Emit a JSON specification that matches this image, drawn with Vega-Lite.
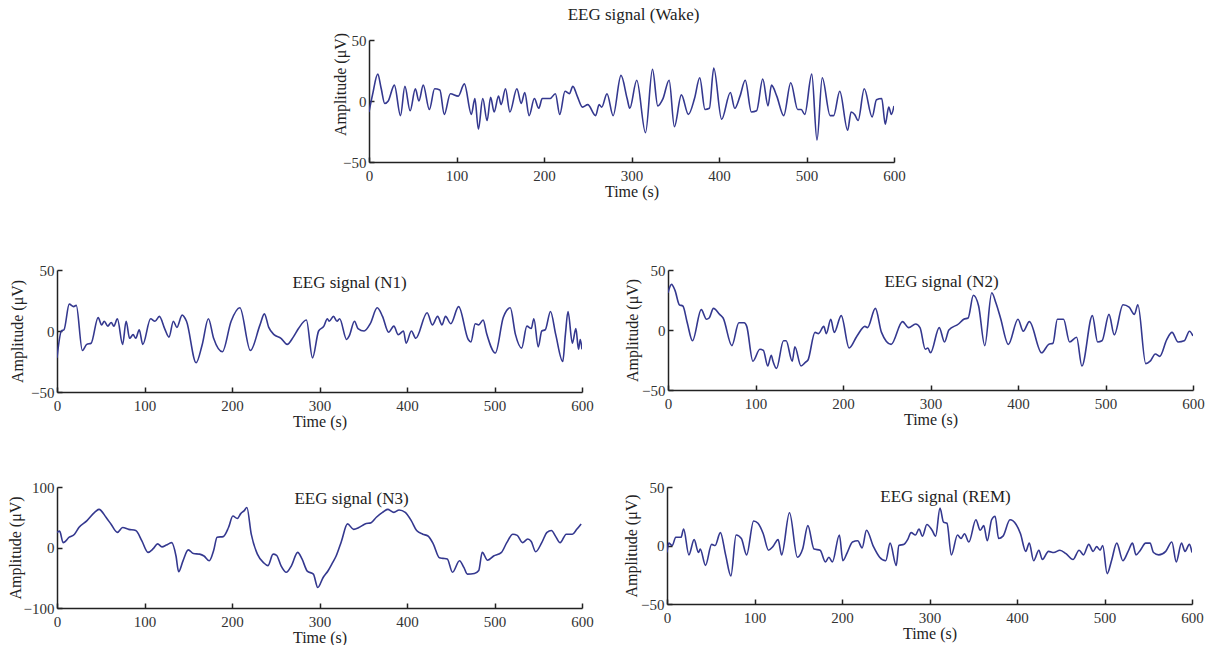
{
  "$schema": "https://vega.github.io/schema/vega-lite/v6.json",
  "padding": {"left": 6, "top": 6, "right": 0, "bottom": 0},
  "background": "white",
  "config": {
    "view": {"stroke": null},
    "font": "Liberation Serif",
    "title": {"fontSize": 17, "fontWeight": "normal", "font": "Liberation Serif", "color": "#222", "anchor": "middle", "frame": "group"},
    "axis": {"grid": false, "domainColor": "#222", "domainWidth": 1.5, "tickColor": "#222", "tickWidth": 1.5, "tickSize": -5, "labelFont": "Liberation Serif", "labelFontSize": 15, "labelColor": "#333", "titleFont": "Liberation Serif", "titleFontSize": 16, "titleFontWeight": "normal", "titleColor": "#222"},
    "axisX": {"labelFlush": false, "labelPadding": 11, "titlePadding": 0},
    "axisY": {"labelPadding": 8, "labelFlush": false, "titleBaseline": "middle", "titleAlign": "center"},
    "line": {"color": "#34388f", "strokeWidth": 1.6}
  },
  "datasets": {
    "wake": [{"t":0,"v":-9},{"t":4,"v":5},{"t":10,"v":22},{"t":14,"v":10},{"t":18,"v":-2},{"t":22,"v":0},{"t":29,"v":13},{"t":36,"v":-12},{"t":41,"v":12},{"t":47,"v":-8},{"t":53,"v":10},{"t":57,"v":0},{"t":62,"v":13},{"t":69,"v":-7},{"t":75,"v":10},{"t":81,"v":9},{"t":86,"v":-11},{"t":93,"v":6},{"t":102,"v":4},{"t":109,"v":14},{"t":117,"v":-11},{"t":121,"v":2},{"t":125,"v":-23},{"t":130,"v":2},{"t":135,"v":-16},{"t":139,"v":3},{"t":143,"v":-9},{"t":148,"v":4},{"t":151,"v":-3},{"t":156,"v":10},{"t":161,"v":-9},{"t":169,"v":10},{"t":174,"v":-2},{"t":178,"v":7},{"t":183,"v":-12},{"t":189,"v":2},{"t":194,"v":-6},{"t":198,"v":2},{"t":207,"v":2},{"t":213,"v":6},{"t":218,"v":-11},{"t":224,"v":8},{"t":229,"v":6},{"t":233,"v":12},{"t":238,"v":4},{"t":244,"v":-5},{"t":250,"v":-3},{"t":259,"v":-12},{"t":263,"v":-3},{"t":266,"v":-5},{"t":272,"v":6},{"t":279,"v":-12},{"t":288,"v":21},{"t":295,"v":2},{"t":298,"v":-6},{"t":306,"v":17},{"t":316,"v":-26},{"t":324,"v":26},{"t":330,"v":-4},{"t":336,"v":2},{"t":343,"v":17},{"t":349,"v":-21},{"t":357,"v":5},{"t":365,"v":-11},{"t":372,"v":2},{"t":378,"v":19},{"t":384,"v":-7},{"t":389,"v":-6},{"t":394,"v":27},{"t":403,"v":-15},{"t":413,"v":7},{"t":418,"v":-6},{"t":424,"v":4},{"t":430,"v":17},{"t":437,"v":-9},{"t":443,"v":-8},{"t":450,"v":18},{"t":456,"v":-4},{"t":460,"v":13},{"t":466,"v":4},{"t":474,"v":-12},{"t":482,"v":15},{"t":490,"v":-7},{"t":494,"v":-7},{"t":498,"v":-11},{"t":506,"v":22},{"t":512,"v":-32},{"t":518,"v":19},{"t":527,"v":-12},{"t":531,"v":-12},{"t":538,"v":8},{"t":547,"v":-24},{"t":551,"v":-9},{"t":555,"v":-11},{"t":559,"v":-16},{"t":566,"v":10},{"t":575,"v":-13},{"t":580,"v":1},{"t":586,"v":2},{"t":590,"v":-19},{"t":594,"v":-5},{"t":597,"v":-11},{"t":600,"v":-4}],
    "n1": [{"t":0,"v":-22},{"t":5,"v":0},{"t":8,"v":1},{"t":14,"v":22},{"t":19,"v":20},{"t":22,"v":21},{"t":29,"v":-16},{"t":34,"v":-11},{"t":39,"v":-10},{"t":47,"v":11},{"t":51,"v":5},{"t":54,"v":8},{"t":58,"v":4},{"t":62,"v":7},{"t":65,"v":4},{"t":69,"v":10},{"t":75,"v":-11},{"t":79,"v":8},{"t":83,"v":-6},{"t":87,"v":-3},{"t":90,"v":-6},{"t":94,"v":1},{"t":98,"v":-11},{"t":107,"v":10},{"t":112,"v":8},{"t":117,"v":12},{"t":123,"v":2},{"t":128,"v":-5},{"t":133,"v":8},{"t":137,"v":3},{"t":143,"v":13},{"t":148,"v":8},{"t":159,"v":-26},{"t":166,"v":-11},{"t":173,"v":10},{"t":179,"v":-6},{"t":189,"v":-17},{"t":199,"v":8},{"t":209,"v":19},{"t":221,"v":-16},{"t":232,"v":5},{"t":237,"v":14},{"t":242,"v":3},{"t":248,"v":-3},{"t":256,"v":-6},{"t":263,"v":-11},{"t":270,"v":-5},{"t":276,"v":2},{"t":285,"v":9},{"t":292,"v":-22},{"t":299,"v":0},{"t":305,"v":4},{"t":309,"v":10},{"t":311,"v":8},{"t":316,"v":12},{"t":320,"v":8},{"t":323,"v":10},{"t":331,"v":-7},{"t":334,"v":-4},{"t":340,"v":8},{"t":344,"v":2},{"t":351,"v":0},{"t":358,"v":6},{"t":366,"v":19},{"t":372,"v":12},{"t":379,"v":-1},{"t":385,"v":4},{"t":390,"v":-3},{"t":396,"v":0},{"t":399,"v":-10},{"t":405,"v":0},{"t":410,"v":-6},{"t":423,"v":15},{"t":429,"v":5},{"t":435,"v":12},{"t":440,"v":5},{"t":444,"v":12},{"t":450,"v":6},{"t":459,"v":20},{"t":470,"v":-7},{"t":473,"v":-9},{"t":478,"v":6},{"t":482,"v":5},{"t":487,"v":9},{"t":491,"v":-2},{"t":501,"v":-18},{"t":510,"v":11},{"t":518,"v":19},{"t":524,"v":-3},{"t":531,"v":-14},{"t":537,"v":4},{"t":542,"v":2},{"t":545,"v":10},{"t":550,"v":-13},{"t":554,"v":0},{"t":558,"v":1},{"t":564,"v":16},{"t":570,"v":-3},{"t":578,"v":-25},{"t":581,"v":-3},{"t":584,"v":16},{"t":589,"v":-10},{"t":593,"v":2},{"t":596,"v":-15},{"t":598,"v":-7},{"t":600,"v":-15}],
    "n2": [{"t":0,"v":31},{"t":4,"v":38},{"t":8,"v":33},{"t":13,"v":21},{"t":17,"v":20},{"t":22,"v":6},{"t":28,"v":-9},{"t":38,"v":17},{"t":44,"v":9},{"t":47,"v":10},{"t":52,"v":18},{"t":59,"v":13},{"t":63,"v":10},{"t":73,"v":-13},{"t":81,"v":6},{"t":87,"v":6},{"t":90,"v":3},{"t":97,"v":-26},{"t":105,"v":-16},{"t":109,"v":-17},{"t":114,"v":-30},{"t":118,"v":-21},{"t":120,"v":-26},{"t":124,"v":-32},{"t":132,"v":-9},{"t":135,"v":-9},{"t":142,"v":-26},{"t":145,"v":-14},{"t":152,"v":-30},{"t":157,"v":-27},{"t":160,"v":-25},{"t":168,"v":-2},{"t":172,"v":-3},{"t":178,"v":3},{"t":181,"v":-3},{"t":186,"v":9},{"t":190,"v":-2},{"t":198,"v":12},{"t":207,"v":-15},{"t":216,"v":-5},{"t":225,"v":3},{"t":228,"v":2},{"t":237,"v":18},{"t":244,"v":-2},{"t":255,"v":-12},{"t":268,"v":7},{"t":275,"v":2},{"t":283,"v":5},{"t":288,"v":2},{"t":294,"v":-16},{"t":297,"v":-15},{"t":300,"v":-19},{"t":310,"v":2},{"t":316,"v":-10},{"t":321,"v":0},{"t":332,"v":5},{"t":338,"v":9},{"t":343,"v":10},{"t":349,"v":29},{"t":355,"v":20},{"t":362,"v":-13},{"t":370,"v":31},{"t":375,"v":22},{"t":380,"v":10},{"t":389,"v":-12},{"t":400,"v":9},{"t":406,"v":-1},{"t":413,"v":7},{"t":427,"v":-19},{"t":435,"v":-12},{"t":440,"v":-11},{"t":445,"v":9},{"t":452,"v":9},{"t":459,"v":-10},{"t":467,"v":-6},{"t":473,"v":-30},{"t":485,"v":12},{"t":491,"v":-10},{"t":496,"v":-9},{"t":504,"v":13},{"t":510,"v":-4},{"t":520,"v":21},{"t":527,"v":19},{"t":533,"v":13},{"t":537,"v":21},{"t":546,"v":-28},{"t":551,"v":-26},{"t":557,"v":-20},{"t":562,"v":-22},{"t":570,"v":-8},{"t":576,"v":-2},{"t":583,"v":-10},{"t":590,"v":-9},{"t":596,"v":-1},{"t":600,"v":-5}],
    "n3": [{"t":0,"v":25},{"t":3,"v":27},{"t":7,"v":8},{"t":14,"v":17},{"t":20,"v":22},{"t":25,"v":33},{"t":34,"v":44},{"t":43,"v":58},{"t":48,"v":63},{"t":56,"v":50},{"t":62,"v":38},{"t":69,"v":25},{"t":75,"v":33},{"t":82,"v":30},{"t":90,"v":28},{"t":97,"v":11},{"t":104,"v":-8},{"t":110,"v":-2},{"t":115,"v":6},{"t":120,"v":1},{"t":125,"v":4},{"t":131,"v":8},{"t":136,"v":-14},{"t":139,"v":-40},{"t":144,"v":-22},{"t":150,"v":-4},{"t":156,"v":-10},{"t":163,"v":-11},{"t":168,"v":-14},{"t":174,"v":-22},{"t":179,"v":-5},{"t":183,"v":17},{"t":190,"v":18},{"t":196,"v":33},{"t":201,"v":52},{"t":206,"v":48},{"t":210,"v":56},{"t":214,"v":61},{"t":217,"v":66},{"t":222,"v":22},{"t":229,"v":-11},{"t":236,"v":-25},{"t":241,"v":-30},{"t":247,"v":-11},{"t":251,"v":-13},{"t":256,"v":-30},{"t":262,"v":-41},{"t":268,"v":-30},{"t":275,"v":-8},{"t":280,"v":-19},{"t":286,"v":-39},{"t":293,"v":-44},{"t":298,"v":-66},{"t":304,"v":-50},{"t":310,"v":-38},{"t":315,"v":-25},{"t":319,"v":-14},{"t":325,"v":10},{"t":332,"v":39},{"t":339,"v":30},{"t":345,"v":33},{"t":352,"v":39},{"t":359,"v":41},{"t":365,"v":50},{"t":372,"v":58},{"t":378,"v":63},{"t":385,"v":58},{"t":391,"v":62},{"t":398,"v":58},{"t":405,"v":44},{"t":411,"v":28},{"t":418,"v":22},{"t":424,"v":19},{"t":430,"v":6},{"t":437,"v":-17},{"t":441,"v":-18},{"t":446,"v":-19},{"t":452,"v":-41},{"t":460,"v":-22},{"t":465,"v":-33},{"t":469,"v":-44},{"t":477,"v":-43},{"t":482,"v":-38},{"t":486,"v":-8},{"t":492,"v":-21},{"t":499,"v":-14},{"t":508,"v":-8},{"t":514,"v":8},{"t":521,"v":22},{"t":526,"v":20},{"t":532,"v":8},{"t":538,"v":14},{"t":542,"v":10},{"t":547,"v":-7},{"t":554,"v":8},{"t":560,"v":25},{"t":565,"v":28},{"t":570,"v":18},{"t":575,"v":8},{"t":582,"v":22},{"t":589,"v":22},{"t":594,"v":30},{"t":599,"v":39}],
    "rem": [{"t":0,"v":-6},{"t":2,"v":2},{"t":6,"v":0},{"t":10,"v":7},{"t":16,"v":7},{"t":19,"v":14},{"t":25,"v":-8},{"t":31,"v":5},{"t":36,"v":-6},{"t":38,"v":-3},{"t":44,"v":-17},{"t":51,"v":1},{"t":55,"v":0},{"t":61,"v":11},{"t":67,"v":-8},{"t":73,"v":-26},{"t":79,"v":9},{"t":85,"v":6},{"t":91,"v":-8},{"t":99,"v":21},{"t":104,"v":19},{"t":110,"v":10},{"t":116,"v":-4},{"t":121,"v":-1},{"t":127,"v":5},{"t":131,"v":-8},{"t":140,"v":28},{"t":149,"v":-10},{"t":155,"v":-3},{"t":161,"v":17},{"t":168,"v":-3},{"t":175,"v":-4},{"t":181,"v":-14},{"t":185,"v":-10},{"t":189,"v":-14},{"t":197,"v":9},{"t":201,"v":-13},{"t":206,"v":-6},{"t":212,"v":3},{"t":218,"v":4},{"t":223,"v":-2},{"t":228,"v":13},{"t":236,"v":-1},{"t":243,"v":-10},{"t":250,"v":-13},{"t":255,"v":2},{"t":262,"v":-17},{"t":265,"v":0},{"t":271,"v":1},{"t":275,"v":5},{"t":279,"v":11},{"t":284,"v":9},{"t":288,"v":14},{"t":292,"v":8},{"t":297,"v":18},{"t":303,"v":13},{"t":307,"v":8},{"t":312,"v":32},{"t":316,"v":20},{"t":320,"v":19},{"t":325,"v":-8},{"t":332,"v":9},{"t":336,"v":6},{"t":340,"v":10},{"t":345,"v":3},{"t":353,"v":22},{"t":358,"v":13},{"t":362,"v":17},{"t":366,"v":4},{"t":371,"v":22},{"t":375,"v":25},{"t":379,"v":6},{"t":384,"v":8},{"t":392,"v":22},{"t":399,"v":18},{"t":404,"v":10},{"t":410,"v":-5},{"t":414,"v":2},{"t":419,"v":-13},{"t":425,"v":-4},{"t":429,"v":-12},{"t":436,"v":-5},{"t":442,"v":-6},{"t":449,"v":-4},{"t":456,"v":-7},{"t":464,"v":-12},{"t":471,"v":-4},{"t":476,"v":-8},{"t":482,"v":1},{"t":487,"v":-5},{"t":491,"v":-1},{"t":495,"v":-4},{"t":498,"v":0},{"t":503,"v":-24},{"t":508,"v":-13},{"t":514,"v":2},{"t":521,"v":-13},{"t":527,"v":-5},{"t":532,"v":2},{"t":536,"v":-8},{"t":541,"v":-4},{"t":547,"v":2},{"t":552,"v":2},{"t":556,"v":-6},{"t":562,"v":-8},{"t":570,"v":-5},{"t":577,"v":3},{"t":582,"v":-14},{"t":588,"v":2},{"t":592,"v":-5},{"t":597,"v":1},{"t":600,"v":-6}]
  },
  "spacing": 64,
  "vconcat": [
    {
      "bounds": "flush",
      "spacing": 10,
      "hconcat": [
        {"width": 302, "height": 10, "data": {"values": []}, "mark": {"type": "point", "opacity": 0}, "encoding": {}},
        {
          "width": 525, "height": 122,
          "data": {"name": "wake"},
          "title": {"text": "EEG signal (Wake)", "offset": 8, "dx": 2},
          "mark": {"type": "line", "interpolate": "monotone", "clip": true},
          "encoding": {
            "x": {"field": "t", "type": "quantitative", "scale": {"domain": [0, 600], "nice": false}, "axis": {"title": "Time (s)", "values": [0, 100, 200, 300, 400, 500, 600]}},
            "y": {"field": "v", "type": "quantitative", "scale": {"domain": [-50, 50], "nice": false}, "axis": {"title": "Amplitude (μV)", "values": [-50, 0, 50], "titleX": -29, "titleY": 44}}
          }
        }
      ]
    },
    {
      "spacing": 51,
      "vconcat": [
        {
          "bounds": "flush",
          "spacing": 86,
          "hconcat": [
            {
              "width": 525, "height": 122,
              "data": {"name": "n1"},
              "title": {"text": "EEG signal (N1)", "offset": -29, "dx": 30},
              "mark": {"type": "line", "interpolate": "monotone", "clip": true},
              "encoding": {
                "x": {"field": "t", "type": "quantitative", "scale": {"domain": [0, 600], "nice": false}, "axis": {"title": "Time (s)", "values": [0, 100, 200, 300, 400, 500, 600]}},
                "y": {"field": "v", "type": "quantitative", "scale": {"domain": [-50, 50], "nice": false}, "axis": {"title": "Amplitude (μV)", "values": [-50, 0, 50], "titleX": -40}}
              }
            },
            {
              "width": 525, "height": 120,
              "data": {"name": "n2"},
              "title": {"text": "EEG signal (N2)", "offset": -28, "dx": 11},
              "mark": {"type": "line", "interpolate": "monotone", "clip": true},
              "encoding": {
                "x": {"field": "t", "type": "quantitative", "scale": {"domain": [0, 600], "nice": false}, "axis": {"title": "Time (s)", "values": [0, 100, 200, 300, 400, 500, 600]}},
                "y": {"field": "v", "type": "quantitative", "scale": {"domain": [-50, 50], "nice": false}, "axis": {"title": "Amplitude (μV)", "values": [-50, 0, 50], "titleX": -36}}
              }
            }
          ]
        },
        {
          "bounds": "flush",
          "spacing": 85,
          "hconcat": [
            {
              "width": 525, "height": 121,
              "data": {"name": "n3"},
              "title": {"text": "EEG signal (N3)", "offset": -28, "dx": 32},
              "mark": {"type": "line", "interpolate": "monotone", "clip": true},
              "encoding": {
                "x": {"field": "t", "type": "quantitative", "scale": {"domain": [0, 600], "nice": false}, "axis": {"title": "Time (s)", "values": [0, 100, 200, 300, 400, 500, 600]}},
                "y": {"field": "v", "type": "quantitative", "scale": {"domain": [-100, 100], "nice": false}, "axis": {"title": "Amplitude (μV)", "values": [-100, 0, 100], "titleX": -42}}
              }
            },
            {
              "width": 525, "height": 117,
              "data": {"name": "rem"},
              "title": {"text": "EEG signal (REM)", "offset": -26, "dx": 16},
              "mark": {"type": "line", "interpolate": "monotone", "clip": true},
              "encoding": {
                "x": {"field": "t", "type": "quantitative", "scale": {"domain": [0, 600], "nice": false}, "axis": {"title": "Time (s)", "values": [0, 100, 200, 300, 400, 500, 600]}},
                "y": {"field": "v", "type": "quantitative", "scale": {"domain": [-50, 50], "nice": false}, "axis": {"title": "Amplitude (μV)", "values": [-50, 0, 50], "titleX": -36}}
              }
            }
          ]
        }
      ]
    }
  ]
}
